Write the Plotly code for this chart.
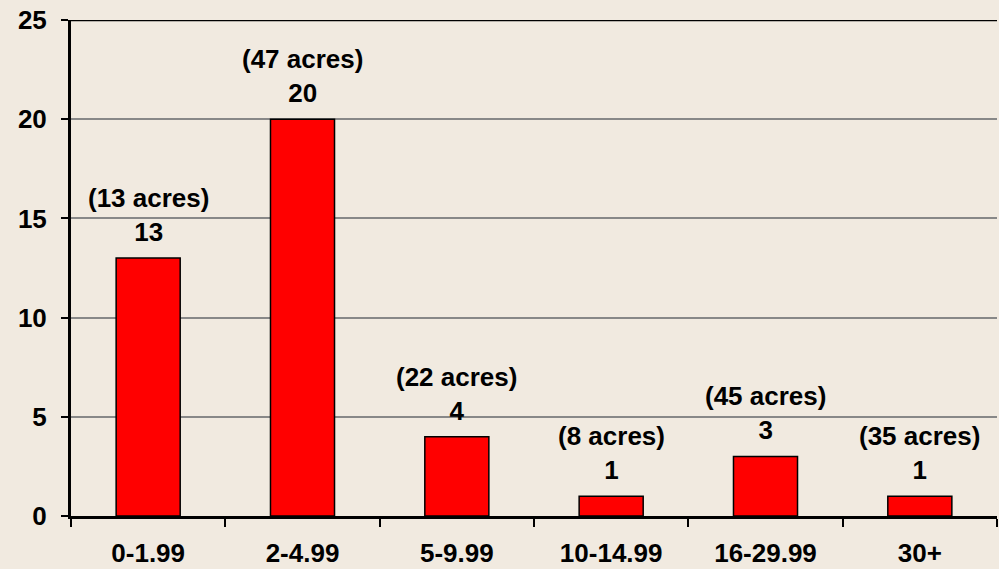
import plotly.graph_objects as go

categories = ["0-1.99", "2-4.99", "5-9.99", "10-14.99", "16-29.99", "30+"]
counts = [13, 20, 4, 1, 3, 1]
acres = [13, 47, 22, 8, 45, 35]
y_ticks = [0, 5, 10, 15, 20, 25]

BG = "#F1EAE0"
FONT = "Liberation Sans, Arial, sans-serif"
FS = 26

fig = go.Figure()
fig.add_trace(go.Bar(
    x=categories, y=counts,
    marker=dict(color="#FF0000", line=dict(color="#000000", width=1.5)),
    width=0.415,
    hoverinfo="skip",
))

for c, v, a in zip(categories, counts, acres):
    fig.add_annotation(
        x=c, y=v, text=f"<b>({a} acres)<br>{v}</b>",
        showarrow=False, yanchor="bottom", yshift=9,
        font=dict(family=FONT, size=FS, color="#000000"),
        align="center",
    )

# black top border line at 25
fig.add_shape(type="line", xref="paper", yref="y", x0=0, x1=1, y0=25, y1=25,
              line=dict(color="#000000", width=2.5))

fig.update_layout(
    width=999, height=569,
    margin=dict(l=71, r=2, t=20, b=53),
    paper_bgcolor=BG, plot_bgcolor=BG,
    showlegend=False,
    font=dict(family=FONT, size=FS, color="#000000"),
    xaxis=dict(
        type="category", tickson="boundaries",
        ticks="outside", ticklen=8, tickwidth=2, tickcolor="#000000",
        showline=True, linecolor="#000000", linewidth=2.5,
        showgrid=False,
        tickfont=dict(family=FONT, size=FS, color="#000000"),
        ticklabelstandoff=12,
        tickvals=categories,
        ticktext=[f"<b>{c}</b>" for c in categories],
    ),
    yaxis=dict(
        range=[0, 25], tickvals=y_ticks,
        ticktext=[f"<b>{t}</b>" for t in y_ticks],
        ticks="outside", ticklen=7, tickwidth=2, tickcolor="#000000",
        showline=True, linecolor="#000000", linewidth=3,
        showgrid=True, gridcolor="#888888", gridwidth=1.5,
        zeroline=False,
        tickfont=dict(family=FONT, size=FS, color="#000000"),
        ticklabelstandoff=9,
    ),
)

fig.write_html("out.html")
